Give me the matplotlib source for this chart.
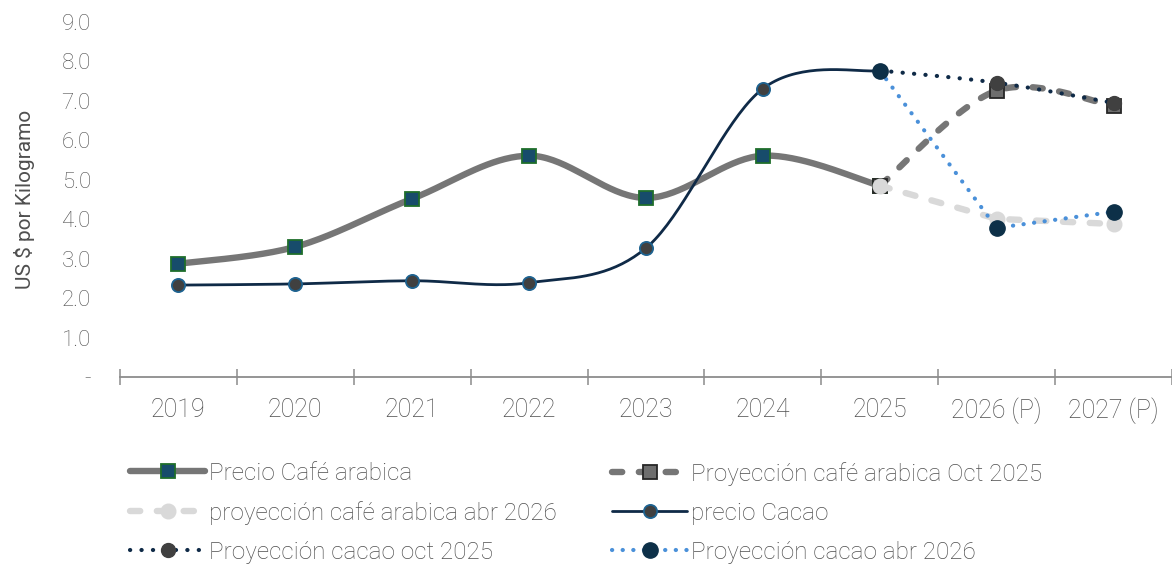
import matplotlib
matplotlib.use("Agg")
import matplotlib.pyplot as plt
import numpy as np
from matplotlib.lines import Line2D

plt.rcParams["font.family"] = ["Roboto", "DejaVu Sans"]
plt.rcParams["font.weight"] = "light"

TXT = "#4f4f4f"

YEARS = ["2019", "2020", "2021", "2022", "2023", "2024", "2025", "2026 (P)", "2027 (P)"]
CAFE = [2.87, 3.30, 4.52, 5.61, 4.54, 5.61, 4.85]
CACAO = [2.33, 2.36, 2.44, 2.39, 3.27, 7.31, 7.77]
CAFE_OCT25 = [4.85, 7.26, 6.88]
CAFE_ABR26 = [4.85, 4.01, 3.88]
CACAO_OCT25 = [7.77, 7.46, 6.95]
CACAO_ABR26 = [7.77, 3.78, 4.19]

X_HIST = np.arange(len(CAFE))
X_PROJ = np.arange(len(CAFE) - 1, len(YEARS))


def smooth(xs, ys, n=40):
    """Curva suavizada tipo Excel (Bezier con tangentes de Catmull-Rom)."""
    p = np.column_stack([xs, ys]).astype(float)
    ext = np.vstack([p[0], p, p[-1]])
    t = np.linspace(0, 1, n)[:, None]
    segs = []
    for i in range(len(p) - 1):
        p0, p1, p2, p3 = ext[i], ext[i + 1], ext[i + 2], ext[i + 3]
        c1 = p1 + (p2 - p0) / 6
        c2 = p2 - (p3 - p1) / 6
        segs.append((1 - t) ** 3 * p1 + 3 * (1 - t) ** 2 * t * c1
                    + 3 * (1 - t) * t ** 2 * c2 + t ** 3 * p2)
    pts = np.vstack(segs)
    return pts[:, 0], pts[:, 1]


# (etiqueta, x, y, suavizado, estilo de línea, estilo de marcador)
SERIES = [
    ("Precio Café arabica", X_HIST, CAFE, True,
     dict(color="#767676", lw=4.6, ls="-"),
     dict(marker="s", ms=10, mfc="#174c6b", mec="#1f6e2b", mew=1.3)),
    ("Proyección café arabica Oct 2025", X_PROJ, CAFE_OCT25, True,
     dict(color="#767676", lw=4.6, ls=(0, (1.6, 2.6)), dash_capstyle="round"),
     dict(marker="s", ms=10, mfc="#6e6e6e", mec="#262626", mew=1.3)),
    ("proyección café arabica abr 2026", X_PROJ, CAFE_ABR26, False,
     dict(color="#d9d9d9", lw=4.6, ls=(0, (1.6, 2.6)), dash_capstyle="round"),
     dict(marker="o", ms=10.5, mfc="#d9d9d9", mec="#d9d9d9", mew=1)),
    ("precio Cacao", X_HIST, CACAO, True,
     dict(color="#0f2a47", lw=2.0, ls="-"),
     dict(marker="o", ms=9.5, mfc="#404040", mec="#1e6391", mew=1.3)),
    ("Proyección cacao oct 2025", X_PROJ, CACAO_OCT25, True,
     dict(color="#0f2a47", lw=3.0, ls=(0, (0.05, 2.7)), dash_capstyle="round"),
     dict(marker="o", ms=10, mfc="#404040", mec="#404040", mew=1)),
    ("Proyección cacao abr 2026", X_PROJ, CACAO_ABR26, False,
     dict(color="#4a90d9", lw=3.0, ls=(0, (0.05, 2.5)), dash_capstyle="round"),
     dict(marker="o", ms=11, mfc="#0d3048", mec="#0d3048", mew=1)),
]

fig = plt.figure(figsize=(11.72, 5.65), dpi=100)
ax = fig.add_axes([120 / 1172, 188 / 565, 1 - 120 / 1172, 355 / 565])

handles = []
for z, (label, xs, ys, smo, lstyle, mstyle) in enumerate(SERIES):
    if smo:
        sx, sy = smooth(xs, ys)
    else:
        sx, sy = np.asarray(xs, float), np.asarray(ys, float)
    ax.plot(sx, sy, solid_capstyle="round", zorder=2 + z, **lstyle)
    ax.plot(xs, ys, ls="none", zorder=2 + z + 0.5, **mstyle)
    handles.append(Line2D([], [], label=label, solid_capstyle="round", **lstyle, **mstyle))

ax.set_xlim(-0.5, len(YEARS) - 0.5)
ax.set_ylim(0, 9)

for s in ("top", "right", "left"):
    ax.spines[s].set_visible(False)
ax.spines["bottom"].set_color("#8c8c8c")
ax.spines["bottom"].set_linewidth(1.3)

ax.set_xticks(np.arange(-0.5, len(YEARS), 1.0))
ax.set_xticklabels([])
ax.tick_params(axis="x", which="major", direction="inout", length=12, width=1.1, color="#8c8c8c")
ax.set_xticks(np.arange(len(YEARS)), minor=True)
ax.set_xticklabels(YEARS, minor=True)
ax.tick_params(axis="x", which="minor", length=0, pad=15, labelsize=18, labelcolor=TXT)

yt = np.arange(0, 10, 1.0)
ax.set_yticks(yt)
ax.set_yticklabels(["-"] + [f"{v:.1f}" for v in yt[1:]])
ax.tick_params(axis="y", length=0, pad=21, labelsize=16, labelcolor=TXT)
ax.set_ylabel("US $ por Kilogramo", fontsize=15, color=TXT, labelpad=19)
ax.grid(False)

leg_kw = dict(loc="upper left", frameon=False, fontsize=17.5, handlelength=3.1,
              handletextpad=0.15, labelspacing=0.66, borderpad=0, borderaxespad=0,
              labelcolor=TXT, numpoints=1)
fig.legend(handles=[handles[0], handles[2], handles[4]],
           bbox_to_anchor=(130 / 1172, 1 - 462 / 565), **leg_kw)
fig.legend(handles=[handles[1], handles[3], handles[5]],
           bbox_to_anchor=(612 / 1172, 1 - 462 / 565), **leg_kw)

fig.savefig("out.png", dpi=100, facecolor="white")
